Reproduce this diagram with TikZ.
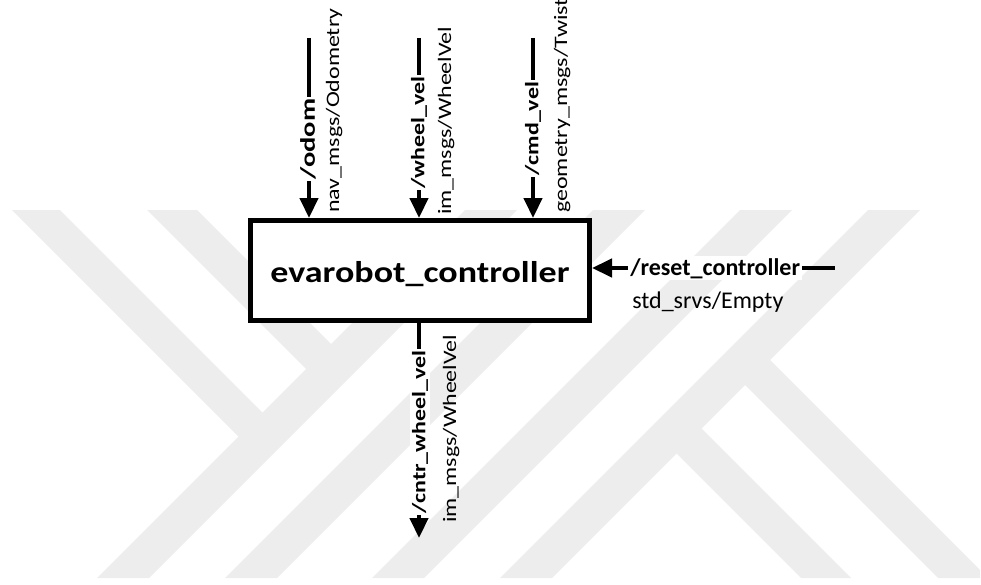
\documentclass[tikz,border=0pt]{standalone}
\usepackage{fontspec}
\setmainfont{Carlito}
\usetikzlibrary{arrows.meta}
\begin{document}
\begin{tikzpicture}[x=0.75pt,y=-0.75pt,
  arr/.style={line width=3.375pt,-{Triangle[length=15pt,width=13.5pt]}},
  wm/.style={fill=black!7,draw=none},
  ctrlbox/.style={draw,line width=3.75pt,fill=white,minimum width=254.25pt,minimum height=75pt,inner sep=0pt,text height=17.25pt,text depth=0pt,font=\fontsize{22.5pt}{27pt}\selectfont\bfseries},
  topic/.style={fill=white,inner sep=1.2pt,font=\fontsize{14.25pt}{17pt}\selectfont\bfseries},
  vtopic/.style={topic,rotate=90},
  msgtype/.style={inner sep=0pt,anchor=base west,font=\fontsize{14.25pt}{17pt}\selectfont},
  vmsgtype/.style={msgtype,rotate=90},
  srvtopic/.style={fill=white,inner sep=1.5pt,anchor=base west,font=\fontsize{18pt}{21pt}\selectfont\bfseries},
  srvtype/.style={inner sep=0pt,anchor=base west,font=\fontsize{18pt}{21pt}\selectfont}]
\useasboundingbox (0,0) rectangle (981,585);
% watermark
\begin{scope}
\clip (10,210) rectangle (980,578);
\fill[wm] (465,210) -- (517,210) -- (149,578) -- (97,578) -- cycle;
\fill[wm] (593,210) -- (645,210) -- (277,578) -- (225,578) -- cycle;
\fill[wm] (740,210) -- (792,210) -- (424,578) -- (372,578) -- cycle;
\fill[wm] (868,210) -- (920,210) -- (552,578) -- (500,578) -- cycle;
\fill[wm] (12,210) -- (60,210) -- (275,425) -- (251,449) -- cycle;
\fill[wm] (147,210) -- (197,210) -- (343.5,356.5) -- (318.5,381.5) -- cycle;
\fill[wm] (757.5,347.5) -- (988,578) -- (938,578) -- (732.5,372.5) -- cycle;
\fill[wm] (689,416) -- (851,578) -- (801,578) -- (664,441) -- cycle;
\end{scope}
% main box
\node[ctrlbox] (ctrl) at (420,270.5) {\scalebox{1.2}[1]{evarobot\_controller}};
% free ends
\coordinate (odomsrc) at (309,38);
\coordinate (wheelsrc) at (419,38);
\coordinate (cmdsrc) at (533,38);
\coordinate (rstsrc) at (835,268);
\coordinate (cntrdst) at (419,538);
% connectors
\draw[arr] (odomsrc) -- (odomsrc |- ctrl.north);
\draw[arr] (wheelsrc) -- (wheelsrc |- ctrl.north);
\draw[arr] (cmdsrc) -- (cmdsrc |- ctrl.north);
\draw[arr] (rstsrc) -- (rstsrc -| ctrl.east);
\draw[arr] (ctrl.south -| cntrdst) -- (cntrdst);
% topic labels
\node[vtopic] (odomlbl) at (308,139) {\scalebox{1.5}[1.1]{/odom}};
\node[vtopic] (wheellbl) at (419,132.5) {\scalebox{1.26}[1]{/wheel\_vel}};
\node[vtopic] (cmdlbl) at (533,128.5) {\scalebox{1.26}[1]{/cmd\_vel}};
\node[vtopic] (cntrlbl) at (420,432) {\scalebox{1.26}[1]{/cntr\_wheel\_vel}};
\node[srvtopic] (rstlbl) at (628,275) {/reset\_controller};
% message types
\node[vmsgtype] (odomtype) at (339,213) {\scalebox{1.26}[1]{nav\_msgs/Odometry}};
\node[vmsgtype] (wheeltype) at (451,215) {\scalebox{1.26}[1]{im\_msgs/WheelVel}};
\node[vmsgtype] (cmdtype) at (567,213) {\scalebox{1.26}[1]{geometry\_msgs/Twist}};
\node[vmsgtype] (cntrtype) at (456,523) {\scalebox{1.26}[1]{im\_msgs/WheelVel}};
\node[srvtype] (rsttype) at (632,308) {std\_srvs/Empty};
\end{tikzpicture}
\end{document}
